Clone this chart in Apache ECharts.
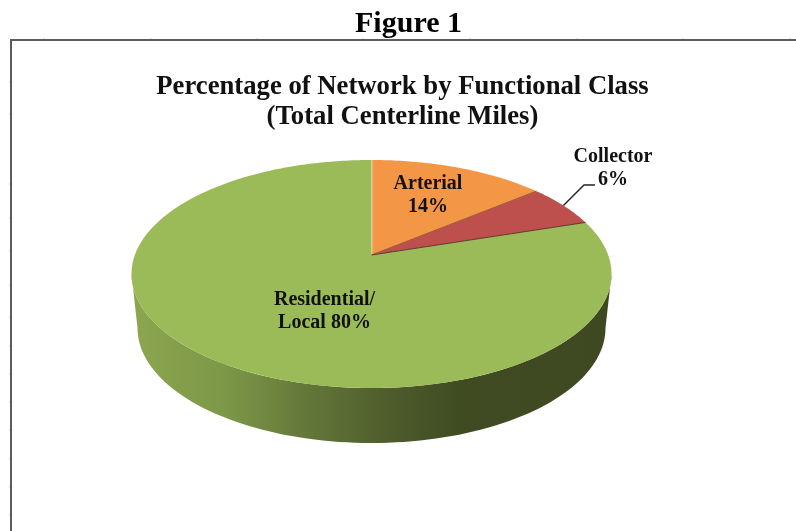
<!DOCTYPE html>
<html>
<head>
<meta charset="utf-8">
<style>html,body{margin:0;padding:0;background:#fff}#chart{width:796px;height:531px}</style>
<script src="https://cdn.jsdelivr.net/npm/echarts@6/dist/echarts.min.js"></script>
</head>
<body>
<div id="chart"></div>
<script>
// Data
const categories = ['Arterial', 'Collector', 'Residential/Local'];
const shares = [14, 6, 80];
const sliceLabels = ['Arterial\n14%', 'Collector\n6%', 'Residential/\nLocal 80%'];
const figureTitle = 'Figure 1';
const chartTitle = 'Percentage of Network by Functional Class\n(Total Centerline Miles)';

// Style and layout
const sliceColors = ['#f39645', '#bd4f4c', '#9bbb59'];
const edgeColors = ['#f3ecd9', '#9a5a3a', '#5b3a2c'];
const top3d = {cx: 371.5, cy: 274, rx: 240, ry: 114, apexY: 255};
const bottom3d = {cx: 371.5, cy: 328, rx: 234, ry: 115};
const labelPos = [[428, 195], [613, 168.5], [324.5, 311.5]];
const leaderSteps = [[584, 185], [595, 185]];
const wallStops = [
  [0.00, '#8ca650'], [0.20, '#7c9747'], [0.36, '#64783a'],
  [0.52, '#505f2d'], [0.68, '#404b22'], [1.00, '#3f4921']
];
const frameX = 11, frameY = 40;
const topTicks = [44, 151, 257, 363, 470, 577, 683, 790];
const leftTicks = [82, 114, 184, 218, 251, 285, 317, 346, 374, 402, 430, 459, 487, 515];

// Perspective view of the disc: the centre appears above the centre of the rim ellipse.
const e = (top3d.cy - top3d.apexY) / top3d.ry;
function rimPoint(share) {
  const a = share / 100 * 2 * Math.PI;
  const u = Math.sin(a), v = Math.cos(a);
  const d = 1 + e * v;
  return [
    top3d.cx + top3d.rx * u * Math.sqrt(1 - e * e) / d,
    top3d.cy - top3d.ry * (v + e) / d
  ];
}
function ellipseArc(el, fromDeg, toDeg) {
  const pts = [];
  const step = fromDeg < toDeg ? 2 : -2;
  for (let t = fromDeg; step > 0 ? t <= toDeg : t >= toDeg; t += step) {
    const r = t * Math.PI / 180;
    pts.push([el.cx + el.rx * Math.cos(r), el.cy + el.ry * Math.sin(r)]);
  }
  return pts;
}
const total = shares.reduce((a, b) => a + b, 0);

function renderItem(params, api) {
  const i = params.dataIndex;
  const value = api.value(0);
  let start = 0;
  for (let k = 0; k < i; k++) start += shares[k];
  start = start / total * 100;
  const end = start + value / total * 100;
  const apex = [top3d.cx, top3d.apexY];
  const children = [];

  // Front wall: only a slice reaching the lower half of the rim has one.
  if (start < 50 && end >= 50 || end > 75) {
    const front = ellipseArc(top3d, 180, 0).concat(ellipseArc(bottom3d, 0, 180));
    children.push({
      type: 'polygon',
      shape: {points: front},
      style: {
        fill: {
          type: 'linear', global: true,
          x: top3d.cx - top3d.rx, y: 0, x2: top3d.cx + top3d.rx, y2: 0,
          colorStops: wallStops.map(s => ({offset: s[0], color: s[1]}))
        }
      }
    });
  }

  // Top face of the slice.
  const pts = [apex];
  for (let s = start; s < end; s += 0.25) pts.push(rimPoint(s));
  pts.push(rimPoint(end));
  children.push({
    type: 'polygon',
    shape: {points: pts},
    style: {fill: sliceColors[i]}
  });
  const edgeEnd = rimPoint(start);
  children.push({
    type: 'line',
    shape: {x1: apex[0], y1: apex[1], x2: edgeEnd[0], y2: edgeEnd[1]},
    style: {stroke: edgeColors[i], lineWidth: i === 0 ? 1.6 : 1}
  });

  // Leader line from the middle of the rim arc to the label outside the disc.
  if (categories[i] === 'Collector') {
    const mid = rimPoint((start + end) / 2);
    children.push({
      type: 'polyline',
      shape: {points: [mid].concat(leaderSteps)},
      style: {fill: null, stroke: '#222', lineWidth: 1.4}
    });
  }

  children.push({
    type: 'text',
    z2: 10,
    style: {
      text: sliceLabels[i],
      x: labelPos[i][0],
      y: labelPos[i][1],
      align: 'center',
      verticalAlign: 'middle',
      fill: '#111',
      lineHeight: 23,
      font: 'bold 20px "Liberation Serif"'
    }
  });
  return {type: 'group', children: children};
}

const tickGraphics = topTicks.map(x => ({
  type: 'line', silent: true,
  shape: {x1: x, y1: frameY - 2, x2: x, y2: frameY},
  style: {stroke: '#cfcfcf', lineWidth: 1}
})).concat(leftTicks.map(y => ({
  type: 'line', silent: true,
  shape: {x1: frameX - 2, y1: y, x2: frameX, y2: y},
  style: {stroke: '#cfcfcf', lineWidth: 1}
})));

const chart = echarts.init(document.getElementById('chart'), null, {renderer: 'canvas'});
chart.setOption({
  animation: false,
  backgroundColor: '#ffffff',
  title: [
    {
      text: figureTitle, left: 408.5, top: 24, padding: 0, textAlign: 'center', textVerticalAlign: 'middle',
      textStyle: {fontFamily: 'Liberation Serif', fontWeight: 'bold', fontSize: 30, color: '#000'}
    },
    {
      text: chartTitle, left: 402.5, top: 102, padding: 0, textAlign: 'center', textVerticalAlign: 'middle',
      textStyle: {fontFamily: 'Liberation Serif', fontWeight: 'bold', fontSize: 26.7, lineHeight: 30, color: '#111'}
    }
  ],
  graphic: tickGraphics.concat([{
    type: 'polyline', silent: true,
    shape: {points: [[frameX, 531], [frameX, frameY], [796, frameY]]},
    style: {fill: null, stroke: '#5c5c5c', lineWidth: 2}
  }]),
  series: [{
    type: 'custom',
    coordinateSystem: 'none',
    silent: true,
    renderItem: renderItem,
    data: categories.map((name, i) => ({name: name, value: [shares[i]]}))
  }]
});
</script>
</body>
</html>
